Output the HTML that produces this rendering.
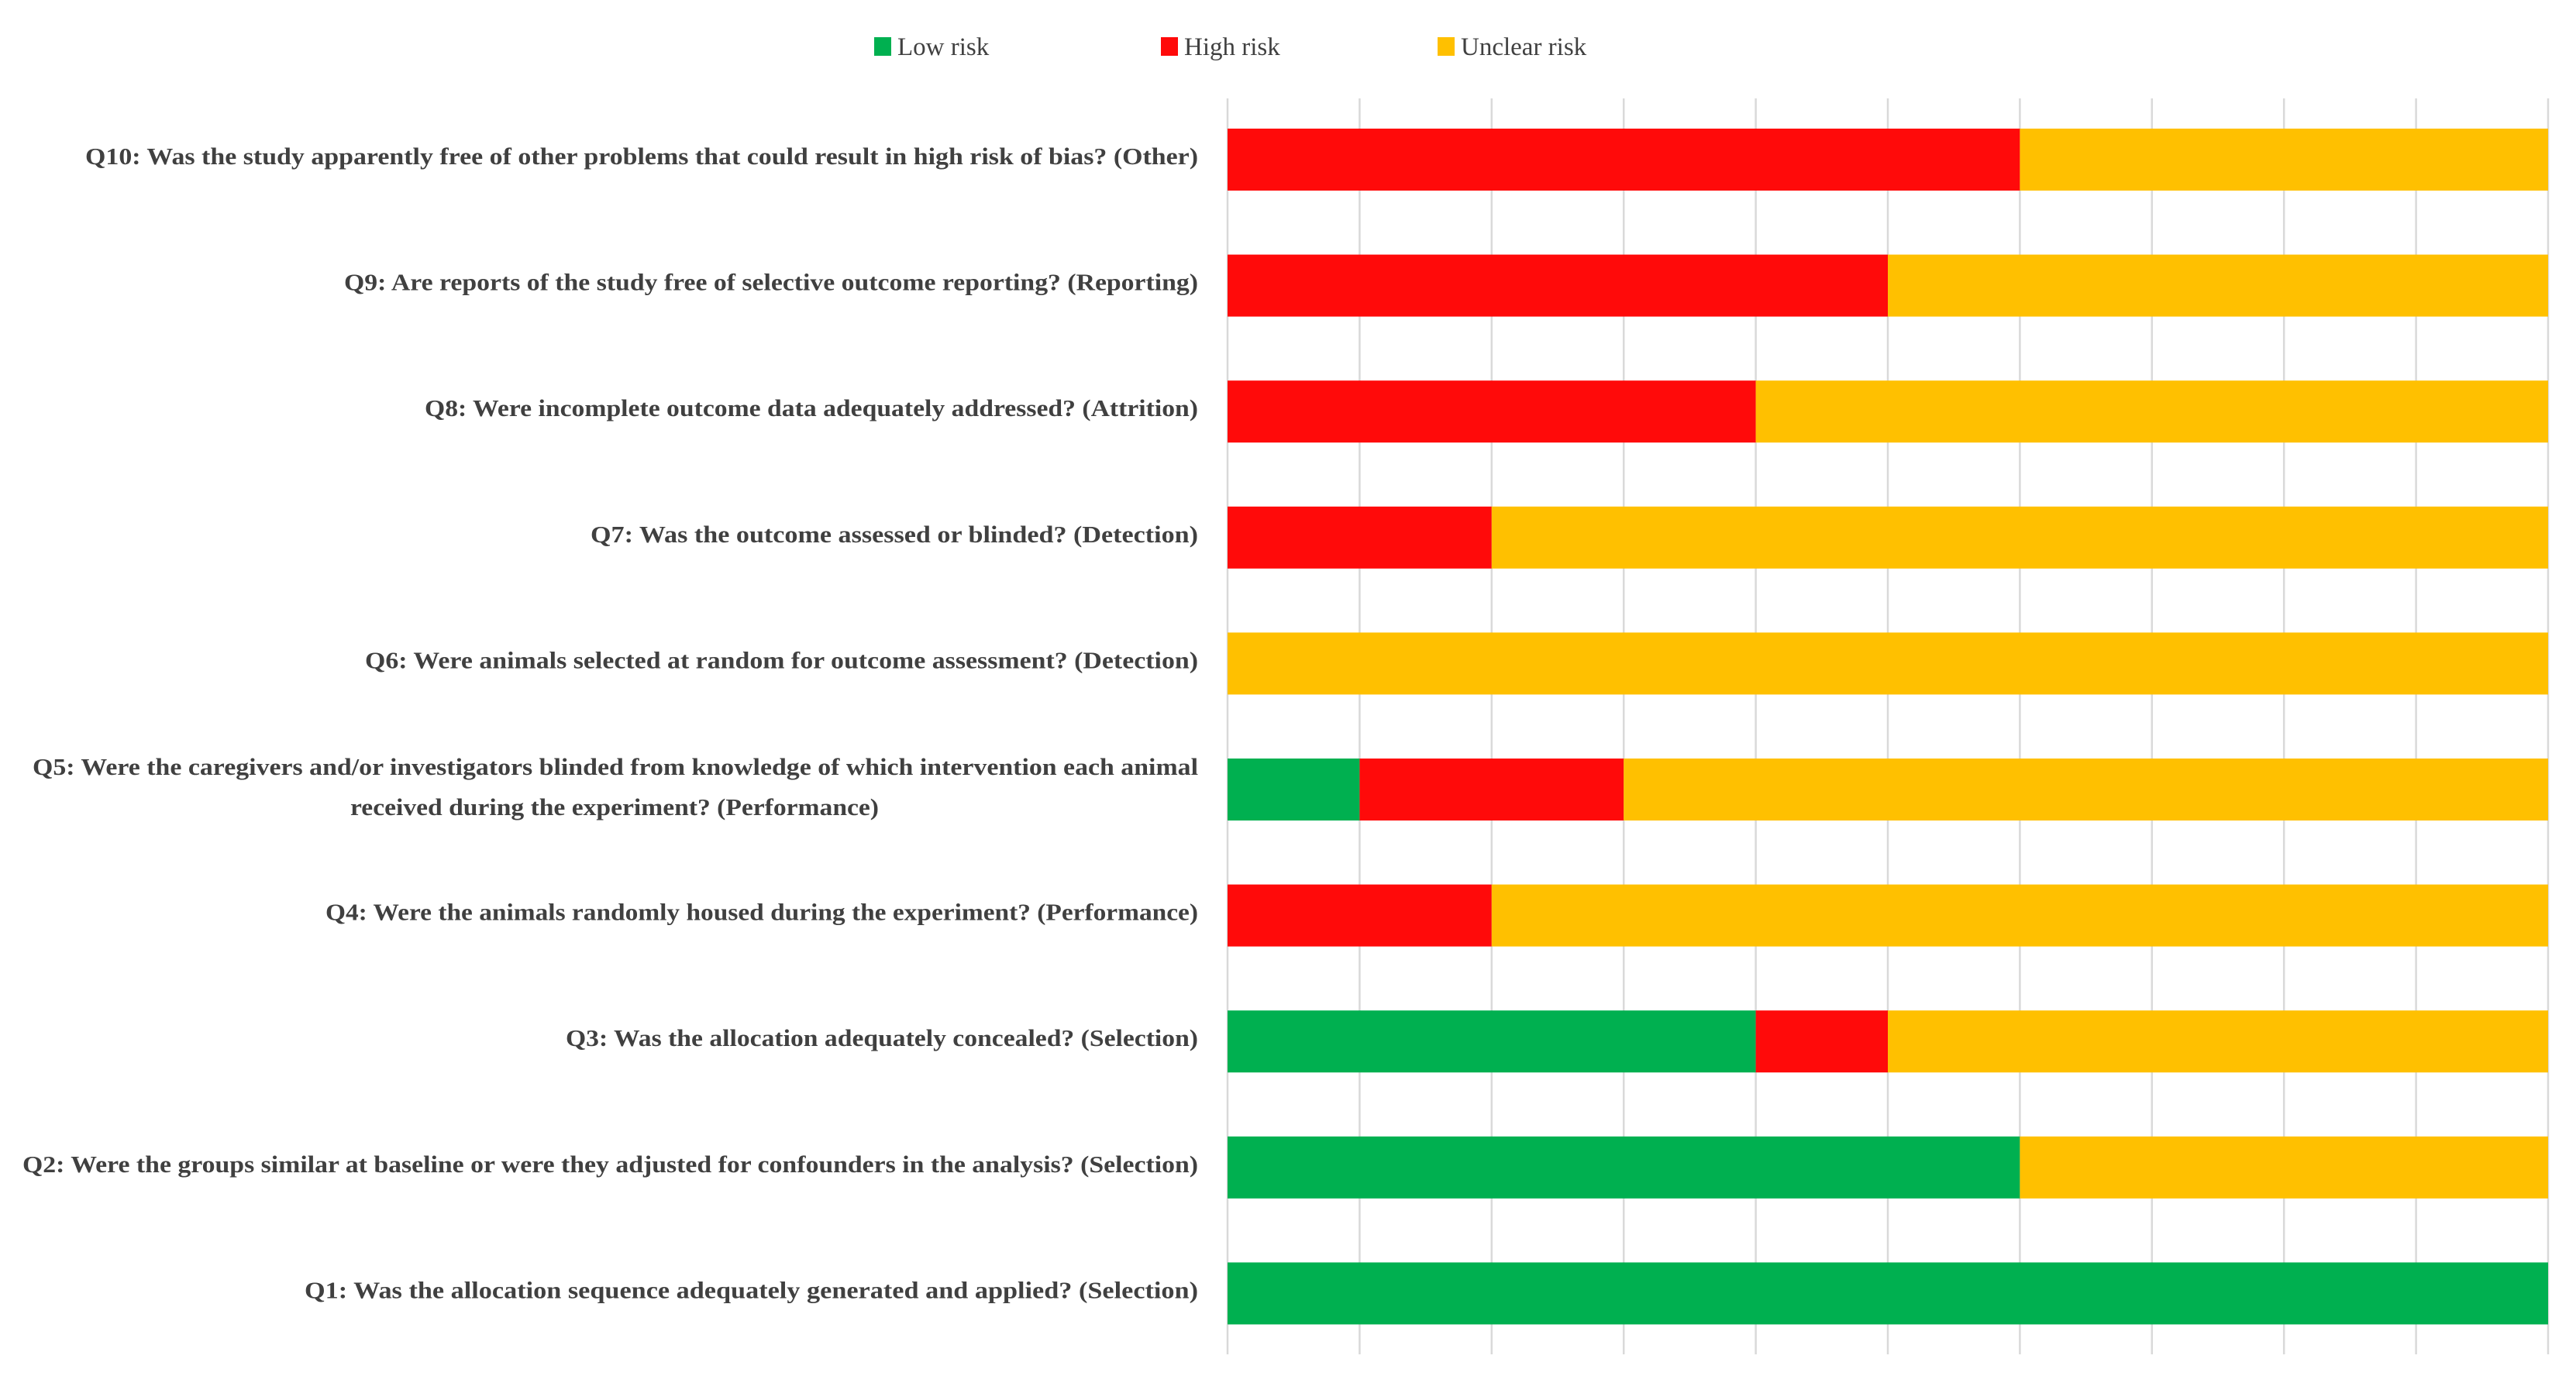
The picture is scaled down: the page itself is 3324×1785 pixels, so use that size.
<!DOCTYPE html>
<html><head><meta charset="utf-8"><style>
html,body{margin:0;padding:0;background:#fff;}
svg{display:block;}
text{font-family:"Liberation Serif",serif;fill:#404040;}
.lbl{font-weight:bold;}
.leg{font-weight:normal;}
</style></head><body>
<svg id="chart" width="3324" height="1785" viewBox="0 0 3324 1785" xmlns="http://www.w3.org/2000/svg">
<g id="legend"></g>
<g id="grid"></g>
<g id="bars"></g>
<g id="labels"></g>
</svg>
<script>
const questions = [
 ["Q10: Was the study apparently free of other problems that could result in high risk of bias?   (Other)"],
 ["Q9: Are reports of the study free of selective outcome reporting?  (Reporting)"],
 ["Q8: Were incomplete outcome data adequately addressed?  (Attrition)"],
 ["Q7: Was the outcome assessed or blinded?  (Detection)"],
 ["Q6: Were animals selected at random for outcome assessment?  (Detection)"],
 ["Q5: Were the caregivers and/or investigators blinded from knowledge of which intervention each animal","received during the experiment?  (Performance)"],
 ["Q4: Were the animals randomly housed during the experiment? (Performance)"],
 ["Q3: Was the allocation adequately concealed? (Selection)"],
 ["Q2: Were the groups similar at baseline or were they adjusted for confounders in the analysis? (Selection)"],
 ["Q1: Was the allocation sequence adequately generated and applied?   (Selection)"]
];
const lowRisk     = [0,0,0,0,0,1,0,4,6,10];
const highRisk    = [6,5,4,2,0,2,2,1,0,0];
const unclearRisk = [4,5,6,8,10,7,8,5,4,0];
const seriesNames = ["Low risk","High risk","Unclear risk"];
const seriesColors = ["#00B050","#FF0A0A","#FFC000"];
const xMax = 10;
// text fitting widths (style, not data)
const labelWidths = [[1436],[1102],[998],[784],[1075],[1504,682],[1126],[816],[1517],[1153]];

const NS="http://www.w3.org/2000/svg";
const x0=1584, x1=3288, yTop=127, yBot=1748, rowStart=206, rowStep=162.6, barH=80;
const xs = v => x0 + (v/xMax)*(x1-x0);
const ys = i => rowStart + i*rowStep;
function mk(tag, attrs, parent){const e=document.createElementNS(NS,tag);for(const k in attrs)e.setAttribute(k,attrs[k]);parent.appendChild(e);return e;}

const grid=document.getElementById('grid');
for(let t=0;t<=xMax;t++){
  const l=mk('line',{x1:xs(t),x2:xs(t),y1:yTop,y2:yBot,stroke:'#d9d9d9','stroke-width':2.5},grid);
  
  
}
const bars=document.getElementById('bars');
const series=[lowRisk,highRisk,unclearRisk];
questions.forEach((q,i)=>{
  let acc=0;
  series.forEach((s,k)=>{
    const v=s[i]; if(v<=0) return;
    const r=mk('rect',{x:xs(acc),y:ys(i)-barH/2,width:xs(acc+v)-xs(acc),height:barH,fill:seriesColors[k]},bars);
    
    
    acc+=v;
  });
});
const labels=document.getElementById('labels');
questions.forEach((q,i)=>{
  const w=labelWidths[i];
  if(q.length===1){
    const t=mk('text',{class:'lbl',x:1546,y:ys(i)+6,'text-anchor':'end','font-size':31,textLength:w[0],lengthAdjust:'spacingAndGlyphs'},labels);
    t.textContent=q[0];
    
    
  } else {
    const t=mk('text',{class:'lbl',x:1546,y:ys(i)-19,'text-anchor':'end','font-size':31,textLength:w[0],lengthAdjust:'spacingAndGlyphs'},labels);
    t.textContent=q[0];
    
    
    const t2=mk('text',{class:'lbl',x:793,y:ys(i)+33,'text-anchor':'middle','font-size':31,textLength:w[1],lengthAdjust:'spacingAndGlyphs'},labels);
    t2.textContent=q[1];
    
    
  }
});
const legend=document.getElementById('legend');
const legX=[1128,1498,1855];
seriesNames.forEach((n,k)=>{
  const r=mk('rect',{x:legX[k],y:48,width:22,height:24,fill:seriesColors[k]},legend);
  
  
  const t=mk('text',{class:'leg',x:legX[k]+30,y:71,'font-size':33},legend);
  t.textContent=n;
  
  
});
</script>
</body></html>
